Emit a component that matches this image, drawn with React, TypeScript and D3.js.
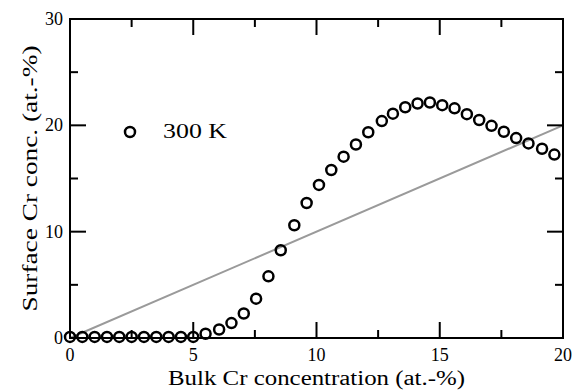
import React from "react";
import * as d3 from "d3";

const bulkCr = [0, 0.5, 1.0, 1.5, 2.0, 2.5, 3.0, 3.5, 4.0, 4.5, 5.0, 5.5, 6.05, 6.55, 7.05, 7.55, 8.05, 8.55, 9.1, 9.6, 10.1, 10.6, 11.1, 11.6, 12.1, 12.65, 13.1, 13.6, 14.1, 14.6, 15.1, 15.6, 16.1, 16.6, 17.1, 17.6, 18.1, 18.6, 19.15, 19.65];
const surfaceCr = [0.1, 0.1, 0.1, 0.1, 0.1, 0.1, 0.1, 0.1, 0.1, 0.1, 0.1, 0.4, 0.8, 1.4, 2.3, 3.7, 5.8, 8.25, 10.6, 12.7, 14.4, 15.8, 17.05, 18.2, 19.35, 20.4, 21.1, 21.7, 22.05, 22.15, 21.9, 21.6, 21.05, 20.5, 19.95, 19.4, 18.8, 18.3, 17.8, 17.25];
const refLineX = [0, 20];
const refLineY = [0, 20];
const xMajorTicks = [0, 5, 10, 15, 20];
const xMinorTicks = [2.5, 7.5, 12.5, 17.5];
const yMajorTicks = [0, 10, 20, 30];
const yMinorTicks = [5, 15, 25];
const legendLabel = "300 K";
const xTitle = "Bulk Cr concentration (at.-%)";
const yTitle = "Surface Cr conc. (at.-%)";

export default function App() {
  const W = 576, H = 390;
  const L = 70, R = 563, T = 19, B = 338;
  const x = d3.scaleLinear().domain([0, 20]).range([L, R]);
  const y = d3.scaleLinear().domain([0, 30]).range([B, T]);
  const line = d3.line<number>().x((d) => x(refLineX[d])).y((d) => y(refLineY[d]));
  const font = "'Liberation Serif', 'Times New Roman', serif";
  const major = 16, minor = 8;
  return (
    <svg width={W} height={H} style={{ position: "absolute", left: 0, top: 0, background: "#fff" }}>
      <path d={line([0, 1]) || ""} stroke="#9a9a9a" strokeWidth={2} fill="none" />
      {bulkCr.map((v, i) => (
        <circle key={i} cx={x(v)} cy={y(surfaceCr[i])} r={5} fill="none" stroke="#000" strokeWidth={2.5} />
      ))}
      <rect x={L} y={T} width={R - L} height={B - T} fill="none" stroke="#000" strokeWidth={2} />
      {xMajorTicks.map((t) => (
        <g key={"xM" + t}>
          <line x1={x(t)} x2={x(t)} y1={B} y2={B - major} stroke="#000" strokeWidth={2} />
          <line x1={x(t)} x2={x(t)} y1={T} y2={T + major} stroke="#000" strokeWidth={2} />
          <text x={x(t)} y={361} textAnchor="middle" fontFamily={font} fontSize={18}>{t}</text>
        </g>
      ))}
      {xMinorTicks.map((t) => (
        <g key={"xm" + t}>
          <line x1={x(t)} x2={x(t)} y1={B} y2={B - minor} stroke="#000" strokeWidth={2} />
          <line x1={x(t)} x2={x(t)} y1={T} y2={T + minor} stroke="#000" strokeWidth={2} />
        </g>
      ))}
      {yMajorTicks.map((t) => (
        <g key={"yM" + t}>
          <line x1={L} x2={L + major} y1={y(t)} y2={y(t)} stroke="#000" strokeWidth={2} />
          <line x1={R} x2={R - major} y1={y(t)} y2={y(t)} stroke="#000" strokeWidth={2} />
          <text x={63} y={y(t) + 6} textAnchor="end" fontFamily={font} fontSize={18}>{t}</text>
        </g>
      ))}
      {yMinorTicks.map((t) => (
        <g key={"ym" + t}>
          <line x1={L} x2={L + minor} y1={y(t)} y2={y(t)} stroke="#000" strokeWidth={2} />
          <line x1={R} x2={R - minor} y1={y(t)} y2={y(t)} stroke="#000" strokeWidth={2} />
        </g>
      ))}
      <circle cx={130} cy={132} r={5} fill="none" stroke="#000" strokeWidth={2.5} />
      <text x={163} y={138} fontFamily={font} fontSize={20} textLength={64} lengthAdjust="spacingAndGlyphs">{legendLabel}</text>
      <text x={(L + R) / 2} y={385} textAnchor="middle" fontFamily={font} fontSize={20} textLength={297} lengthAdjust="spacingAndGlyphs">{xTitle}</text>
      <text transform={`translate(37, ${(T + B) / 2}) rotate(-90)`} textAnchor="middle" fontFamily={font} fontSize={21} textLength={266} lengthAdjust="spacingAndGlyphs">{yTitle}</text>
    </svg>
  );
}
